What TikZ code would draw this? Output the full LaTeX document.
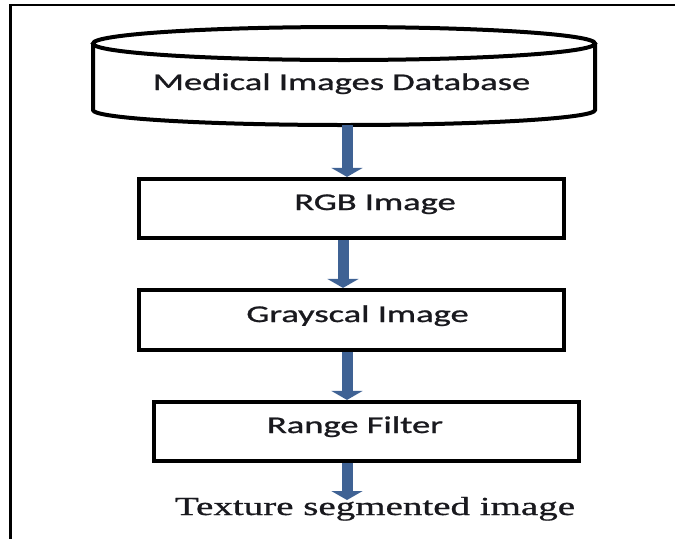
\documentclass[tikz,border=0pt]{standalone}
\usepackage{fontspec}
\usepackage{graphicx}
\usetikzlibrary{arrows.meta}
\newfontfamily\boxfont[FakeBold=0.9]{Carlito}
\newfontfamily\serfont[FakeBold=0.7]{Liberation Serif}
\definecolor{arrowblue}{RGB}{63,98,148}
\definecolor{txt}{RGB}{25,25,30}
\newcommand{\bxt}[1]{\scalebox{1.52}[1]{\boxfont\fontsize{24}{28}\selectfont #1}}
\newcommand{\srt}[1]{\scalebox{1.5}[1]{\serfont\fontsize{26}{30}\selectfont #1}}
\begin{document}
\begin{tikzpicture}[x=1pt,y=-1pt,
  stepbox/.style={draw=black, line width=4.2pt, rectangle, minimum height=#1, inner sep=0pt},
  lbl/.style={inner sep=0pt, anchor=base, text=txt},
  flow/.style={draw=arrowblue, line width=11pt, -{Triangle[width=31pt,length=9pt,color=arrowblue]}},
  framel/.style={draw=black}]
\useasboundingbox (0,0) rectangle (675,539);
% frame (cropped border)
\draw[framel, line width=1.6pt] (9,5) -- (675,5);
\draw[framel, line width=2.6pt] (10.5,4.2) -- (10.5,539);
% database cylinder
\draw[line width=4pt] (344,43.5) ellipse [x radius=251pt, y radius=16.5pt];
\draw[line width=4pt] (93,43.5) -- (93,110) arc [start angle=180, end angle=360, x radius=251pt, y radius=15pt] -- (595,43.5);
\node[lbl] (db) at (341.5,90) {\bxt{Medical Images Database}};
\coordinate (dbb) at (347,125);
% process boxes
\node[stepbox=59pt, minimum width=425pt] (rgb) at (351.5,208.5) {};
\node[stepbox=60pt, minimum width=425pt] (gray) at (351.5,320) {};
\node[stepbox=59pt, minimum width=425pt] (range) at (366.5,431.5) {};
\node[lbl] (rgbt) at (375,210) {\bxt{RGB Image}};
\node[lbl] (grayt) at (357.5,322) {\bxt{Grayscal Image}};
\node[lbl] (ranget) at (355,433) {\bxt{Range Filter}};
% output text
\node[lbl] (out) at (375,515) {\srt{Texture segmented image}};
\coordinate (outtop) at (347,500);
% connectors
\draw[flow] (dbb) -- (rgb.north -| dbb);
\draw[flow] ([xshift=-4pt]rgb.south -| dbb) -- ([xshift=-4pt]gray.north -| dbb);
\draw[flow] (gray.south -| dbb) -- (range.north -| dbb);
\draw[flow] (range.south -| dbb) -- (outtop);
\end{tikzpicture}
\end{document}
